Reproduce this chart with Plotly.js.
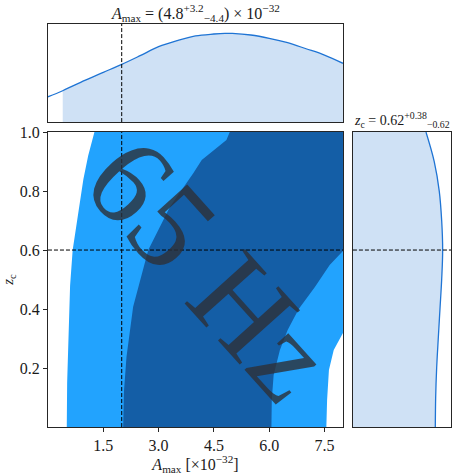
<!DOCTYPE html>
<html>
<head>
<meta charset="utf-8">
<script src="https://cdn.plot.ly/plotly-3.0.1.min.js"></script>
<style>
  html, body { margin: 0; padding: 0; background: #fff; }
  #chart { width: 475px; height: 475px; }
</style>
</head>
<body>
<div id="chart"></div>
<script>
// marginal posterior of A_max (top panel), peak normalised
const margA = [0, 0.4, 1, 1.5, 2, 2.5, 3, 3.5, 4, 4.5, 4.8, 5, 5.5, 6, 6.5, 7, 7.5, 8];
const margADens = [0.285, 0.353, 0.47, 0.56, 0.65, 0.748, 0.849, 0.917, 0.97, 0.992, 1.0, 0.999, 0.981, 0.944, 0.894, 0.826, 0.755, 0.662];
const fillAStart = 0.4; // lower end of the shaded interval

// marginal posterior of z_c (right panel)
const margZ = [0, 0.1, 0.2, 0.3, 0.4, 0.5, 0.6, 0.7, 0.8, 0.9, 1.0];
const margZDens = [0.918, 0.922, 0.933, 0.951, 0.97, 0.989, 1.0, 0.989, 0.962, 0.906, 0.814];

// 2D credible regions, boundaries
// outer (light) region: left edge, top -> bottom
const outerA = [1.26, 1.09, 0.96, 0.79, 0.67, 0.60, 0.55, 0.52, 0.51];
const outerZ = [1.0, 0.92, 0.84, 0.70, 0.60, 0.48, 0.31, 0.15, 0.0];
// outer region: hole in the bottom right corner, bottom -> top
const holeA = [7.55, 7.57, 7.62, 7.75, 7.96, 8.0];
const holeZ = [0.0, 0.092, 0.193, 0.261, 0.306, 0.319];
// inner (dark) region: left edge top -> bottom, right edge bottom -> top
const innerLeftA = [4.93, 4.84, 4.17, 3.94, 3.31, 2.72, 2.31, 2.13, 2.06, 2.04];
const innerLeftZ = [1.0, 0.973, 0.905, 0.86, 0.747, 0.60, 0.408, 0.238, 0.12, 0.0];
const innerRightA = [6.06, 6.07, 6.12, 6.29, 6.50, 6.80, 7.24, 7.64, 8.0];
const innerRightZ = [0.0, 0.092, 0.176, 0.261, 0.329, 0.40, 0.475, 0.549, 0.597];

// injected values (dashed lines)
const injA = 2.0;
const injZ = 0.6;

const aRange = [0, 8];
const zRange = [0, 1];
const xTickVals = [1.5, 3, 4.5, 6, 7.5];
const xTickText = ["1.5", "3.0", "4.5", "6.0", "7.5"];
const yTickVals = [0.2, 0.4, 0.6, 0.8, 1.0];
const yTickText = ["0.2", "0.4", "0.6", "0.8", "1.0"];

const lineBlue = "#1f74d4";
const fillBlue = "#cfe1f5";
const lightRegion = "#22a3fe";
const darkRegion = "#145ea6";
const frame = "#262626";
const serif = "'Liberation Serif', 'Times New Roman', 'DejaVu Serif', serif";

// light region polygon: outer arc, along the bottom, up the hole, right edge
const lightX = outerA.concat(holeA, [aRange[1]]);
const lightY = outerZ.concat(holeZ, [zRange[1]]);
// dark region polygon
const darkX = innerLeftA.concat(innerRightA, [aRange[1]]);
const darkY = innerLeftZ.concat(innerRightZ, [zRange[1]]);

const fillIdx = margA.findIndex(a => a >= fillAStart);

const traces = [
  {
    x: lightX, y: lightY, type: "scatter", mode: "lines",
    fill: "toself", fillcolor: lightRegion, line: { width: 0, color: lightRegion },
    xaxis: "x", yaxis: "y", hoverinfo: "skip"
  },
  {
    x: darkX, y: darkY, type: "scatter", mode: "lines",
    fill: "toself", fillcolor: darkRegion, line: { width: 0, color: darkRegion },
    xaxis: "x", yaxis: "y", hoverinfo: "skip"
  },
  // top marginal: shaded interval, then curve
  {
    x: margA.slice(fillIdx), y: margADens.slice(fillIdx), type: "scatter", mode: "lines",
    fill: "tozeroy", fillcolor: fillBlue, line: { width: 0, shape: "spline" },
    xaxis: "x2", yaxis: "y2", hoverinfo: "skip"
  },
  {
    x: margA, y: margADens, type: "scatter", mode: "lines",
    line: { color: lineBlue, width: 1.3, shape: "spline" },
    xaxis: "x2", yaxis: "y2", hoverinfo: "skip"
  },
  // right marginal
  {
    x: margZDens, y: margZ, type: "scatter", mode: "lines",
    fill: "tozerox", fillcolor: fillBlue,
    line: { color: lineBlue, width: 1.3, shape: "spline" },
    xaxis: "x3", yaxis: "y3", hoverinfo: "skip"
  }
];

const frameAxis = {
  showline: true, mirror: true, linecolor: frame, linewidth: 1,
  showgrid: false, zeroline: false
};

const dashLine = { color: "#000", width: 1, dash: "4px,2px" };

const layout = {
  width: 475, height: 475,
  margin: { t: 0, b: 0, l: 0, r: 0 },
  paper_bgcolor: "#fff",
  plot_bgcolor: "#fff",
  showlegend: false,
  font: { family: serif, color: "#1a1a1a", size: 15 },
  xaxis: Object.assign({}, frameAxis, {
    domain: [0.101, 0.722], anchor: "y", range: aRange,
    tickvals: xTickVals, ticktext: xTickText,
    ticks: "outside", ticklen: 4, tickcolor: frame,
    tickfont: { family: serif, size: 16, color: "#1a1a1a" },
    title: { text: "<i>A</i><sub>max</sub> [×10<sup>−32</sup>]", font: { family: serif, size: 16 }, standoff: 4 }
  }),
  yaxis: Object.assign({}, frameAxis, {
    domain: [0.101, 0.722], anchor: "x", range: zRange,
    tickvals: yTickVals, ticktext: yTickText,
    ticks: "outside", ticklen: 4, tickcolor: frame,
    tickfont: { family: serif, size: 16, color: "#1a1a1a" },
    title: { text: "<i>z</i><sub>c</sub>", font: { family: serif, size: 15 }, standoff: 2 }
  }),
  xaxis2: Object.assign({}, frameAxis, {
    domain: [0.101, 0.722], anchor: "y2", range: aRange, showticklabels: false, ticks: ""
  }),
  yaxis2: Object.assign({}, frameAxis, {
    domain: [0.743, 0.9495], anchor: "x2", range: [0, 1.105], showticklabels: false, ticks: ""
  }),
  xaxis3: Object.assign({}, frameAxis, {
    domain: [0.743, 0.9495], anchor: "y3", range: [0, 1.093], showticklabels: false, ticks: ""
  }),
  yaxis3: Object.assign({}, frameAxis, {
    domain: [0.101, 0.722], anchor: "x3", range: zRange, showticklabels: false, ticks: ""
  }),
  shapes: [
    { type: "line", xref: "x", yref: "y domain", x0: injA, x1: injA, y0: 0, y1: 1, line: dashLine, layer: "above" },
    { type: "line", xref: "x domain", yref: "y", x0: 0, x1: 1, y0: injZ, y1: injZ, line: dashLine, layer: "above" },
    { type: "line", xref: "x2", yref: "y2 domain", x0: injA, x1: injA, y0: 0, y1: 1, line: dashLine, layer: "above" },
    { type: "line", xref: "x3 domain", yref: "y3", x0: 0, x1: 1, y0: injZ, y1: injZ, line: dashLine, layer: "above" }
  ],
  annotations: [
    {
      text: "<i>A</i><sub>max</sub> = (4.8<sup>+3.2</sup><sub>−4.4</sub>) × 10<sup>−32</sup>",
      xref: "paper", yref: "paper", x: 0.4116, y: 0.972,
      xanchor: "center", yanchor: "middle", showarrow: false,
      font: { family: serif, size: 16, color: "#1a1a1a" }
    },
    {
      text: "<i>z</i><sub>c</sub> = 0.62<sup>+0.38</sup><sub>−0.62</sub>",
      xref: "paper", yref: "paper", x: 0.846, y: 0.723,
      xanchor: "center", yanchor: "bottom", showarrow: false,
      font: { family: serif, size: 14, color: "#1a1a1a" }
    },
    {
      text: "65 Hz",
      xref: "x", yref: "y", x: 4.4, y: 0.535,
      showarrow: false, textangle: 48,
      font: { family: serif, size: 124, color: "rgba(45,48,55,0.8)" }
    }
  ]
};

Plotly.newPlot("chart", traces, layout, { displayModeBar: false, staticPlot: true });
</script>
</body>
</html>
